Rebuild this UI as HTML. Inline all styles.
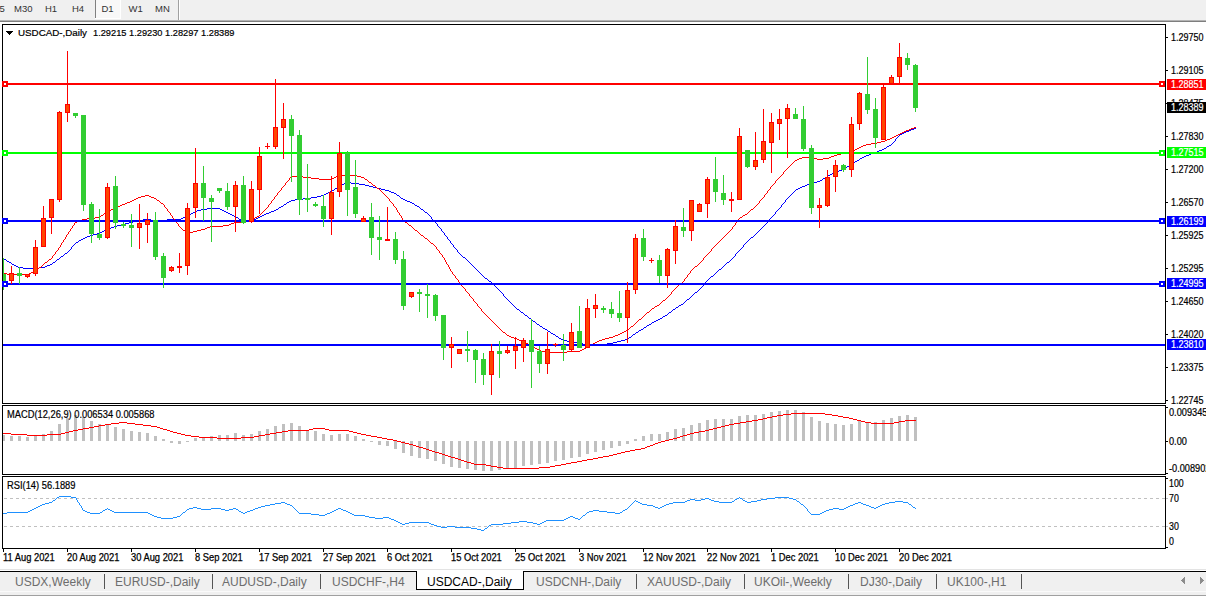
<!DOCTYPE html>
<html><head><meta charset="utf-8"><style>
html,body{margin:0;padding:0;background:#fff;width:1206px;height:596px;overflow:hidden}
svg{display:block;font-family:"Liberation Sans", sans-serif}
</style></head><body>
<svg width="1206" height="596" viewBox="0 0 1206 596" shape-rendering="crispEdges">
<rect x="0" y="0" width="1206" height="20" fill="#F0F0F0"/>
<rect x="0" y="20" width="1206" height="1" fill="#B4B4B4"/>
<rect x="0" y="21" width="1206" height="1" fill="#7E7E7E"/>
<rect x="96" y="0" width="24" height="18" fill="#F8F8F8"/>
<rect x="95" y="0" width="1" height="18" fill="#808080"/>
<rect x="95" y="18" width="26" height="1" fill="#FFFFFF"/>
<rect x="120" y="0" width="1" height="19" fill="#FFFFFF"/>
<rect x="178" y="0" width="1" height="20" fill="#A0A0A0"/>
<rect x="179" y="0" width="1" height="20" fill="#FFFFFF"/>
<text x="-0.5" y="12" font-size="9.5" fill="#333" text-anchor="start">5</text>
<text x="14" y="12" font-size="9.5" fill="#333" text-anchor="start">M30</text>
<text x="45" y="12" font-size="9.5" fill="#333" text-anchor="start">H1</text>
<text x="72" y="12" font-size="9.5" fill="#333" text-anchor="start">H4</text>
<text x="101.5" y="12" font-size="9.5" fill="#333" text-anchor="start">D1</text>
<text x="128.5" y="12" font-size="9.5" fill="#333" text-anchor="start">W1</text>
<text x="155" y="12" font-size="9.5" fill="#333" text-anchor="start">MN</text>
<defs>
<clipPath id="cm"><rect x="3" y="25" width="1162" height="378"/></clipPath>
<clipPath id="cd"><rect x="3" y="406" width="1162" height="68"/></clipPath>
<clipPath id="cr"><rect x="3" y="477" width="1162" height="71"/></clipPath>
</defs>
<g clip-path="url(#cm)">
<path d="M914 128h2v1h-2zM911 129h3v1h-3zM909 130h2v1h-2zM906 131h3v1h-3zM904 132h2v1h-2zM902 133h2v1h-2zM900 134h2v1h-2zM899 135h1v1h-1zM898 136h1v1h-1zM897 137h1v1h-1zM896 138h1v1h-1zM895 139h1v1h-1zM895 140h1v1h-1zM894 141h1v1h-1zM893 142h1v1h-1zM892 143h1v1h-1zM891 144h1v1h-1zM889 145h2v1h-2zM887 146h2v1h-2zM886 147h1v1h-1zM884 148h2v1h-2zM882 149h2v1h-2zM879 150h3v1h-3zM877 151h2v1h-2zM874 152h3v1h-3zM871 153h3v1h-3zM869 154h2v1h-2zM866 155h3v1h-3zM864 156h2v1h-2zM862 157h2v1h-2zM860 158h2v1h-2zM859 159h1v1h-1zM857 160h2v1h-2zM855 161h2v1h-2zM854 162h1v1h-1zM852 163h2v1h-2zM851 164h1v1h-1zM849 165h2v1h-2zM847 166h2v1h-2zM846 167h1v1h-1zM844 168h2v1h-2zM842 169h2v1h-2zM839 170h3v1h-3zM837 171h2v1h-2zM834 172h3v1h-3zM832 173h2v1h-2zM830 174h2v1h-2zM828 175h2v1h-2zM827 176h1v1h-1zM825 177h2v1h-2zM823 178h2v1h-2zM822 179h1v1h-1zM820 180h2v1h-2zM817 181h3v1h-3zM346 182h5v1h-5zM813 182h4v1h-4zM344 183h2v1h-2zM351 183h8v1h-8zM810 183h3v1h-3zM342 184h2v1h-2zM359 184h6v1h-6zM807 184h3v1h-3zM340 185h2v1h-2zM365 185h4v1h-4zM805 185h2v1h-2zM339 186h1v1h-1zM369 186h4v1h-4zM802 186h3v1h-3zM337 187h2v1h-2zM373 187h4v1h-4zM800 187h2v1h-2zM335 188h2v1h-2zM377 188h4v1h-4zM798 188h2v1h-2zM334 189h1v1h-1zM381 189h4v1h-4zM796 189h2v1h-2zM332 190h2v1h-2zM385 190h4v1h-4zM795 190h1v1h-1zM330 191h2v1h-2zM389 191h2v1h-2zM794 191h1v1h-1zM328 192h2v1h-2zM391 192h3v1h-3zM793 192h1v1h-1zM326 193h2v1h-2zM394 193h2v1h-2zM792 193h1v1h-1zM324 194h2v1h-2zM396 194h1v1h-1zM791 194h1v1h-1zM321 195h3v1h-3zM397 195h2v1h-2zM790 195h1v1h-1zM317 196h4v1h-4zM399 196h1v1h-1zM789 196h1v1h-1zM311 197h6v1h-6zM400 197h1v1h-1zM788 197h1v1h-1zM303 198h8v1h-8zM401 198h2v1h-2zM787 198h1v1h-1zM295 199h8v1h-8zM403 199h2v1h-2zM786 199h1v1h-1zM291 200h4v1h-4zM405 200h2v1h-2zM785 200h1v1h-1zM289 201h2v1h-2zM407 201h3v1h-3zM785 201h1v1h-1zM287 202h2v1h-2zM410 202h2v1h-2zM784 202h1v1h-1zM286 203h1v1h-1zM412 203h2v1h-2zM783 203h1v1h-1zM284 204h2v1h-2zM414 204h1v1h-1zM782 204h1v1h-1zM283 205h1v1h-1zM415 205h2v1h-2zM781 205h1v1h-1zM281 206h2v1h-2zM417 206h2v1h-2zM781 206h1v1h-1zM279 207h2v1h-2zM419 207h1v1h-1zM780 207h1v1h-1zM207 208h13v1h-13zM278 208h1v1h-1zM420 208h1v1h-1zM779 208h1v1h-1zM201 209h6v1h-6zM220 209h2v1h-2zM276 209h2v1h-2zM421 209h2v1h-2zM778 209h1v1h-1zM197 210h4v1h-4zM222 210h2v1h-2zM274 210h2v1h-2zM423 210h1v1h-1zM777 210h1v1h-1zM195 211h2v1h-2zM224 211h2v1h-2zM271 211h3v1h-3zM424 211h1v1h-1zM776 211h1v1h-1zM193 212h2v1h-2zM226 212h2v1h-2zM269 212h2v1h-2zM425 212h2v1h-2zM775 212h1v1h-1zM191 213h2v1h-2zM228 213h2v1h-2zM266 213h3v1h-3zM427 213h1v1h-1zM775 213h1v1h-1zM190 214h1v1h-1zM230 214h2v1h-2zM264 214h2v1h-2zM428 214h1v1h-1zM774 214h1v1h-1zM188 215h2v1h-2zM232 215h2v1h-2zM262 215h2v1h-2zM429 215h1v1h-1zM773 215h1v1h-1zM186 216h2v1h-2zM234 216h2v1h-2zM260 216h2v1h-2zM430 216h1v1h-1zM772 216h1v1h-1zM183 217h3v1h-3zM236 217h2v1h-2zM258 217h2v1h-2zM431 217h1v1h-1zM771 217h1v1h-1zM181 218h2v1h-2zM238 218h1v1h-1zM256 218h2v1h-2zM431 218h1v1h-1zM770 218h1v1h-1zM143 219h8v1h-8zM167 219h14v1h-14zM239 219h2v1h-2zM254 219h2v1h-2zM432 219h1v1h-1zM769 219h1v1h-1zM137 220h6v1h-6zM151 220h16v1h-16zM241 220h2v1h-2zM252 220h2v1h-2zM433 220h1v1h-1zM768 220h1v1h-1zM133 221h4v1h-4zM243 221h9v1h-9zM434 221h1v1h-1zM767 221h1v1h-1zM129 222h4v1h-4zM435 222h1v1h-1zM767 222h1v1h-1zM125 223h4v1h-4zM436 223h1v1h-1zM766 223h1v1h-1zM121 224h4v1h-4zM437 224h1v1h-1zM765 224h1v1h-1zM117 225h4v1h-4zM437 225h1v1h-1zM764 225h1v1h-1zM114 226h3v1h-3zM438 226h1v1h-1zM763 226h1v1h-1zM111 227h3v1h-3zM439 227h1v1h-1zM762 227h1v1h-1zM109 228h2v1h-2zM440 228h1v1h-1zM761 228h1v1h-1zM106 229h3v1h-3zM441 229h1v1h-1zM760 229h1v1h-1zM104 230h2v1h-2zM441 230h1v1h-1zM759 230h1v1h-1zM102 231h2v1h-2zM442 231h1v1h-1zM758 231h1v1h-1zM100 232h2v1h-2zM443 232h1v1h-1zM757 232h1v1h-1zM97 233h3v1h-3zM444 233h1v1h-1zM756 233h1v1h-1zM93 234h4v1h-4zM444 234h1v1h-1zM755 234h1v1h-1zM90 235h3v1h-3zM445 235h1v1h-1zM754 235h1v1h-1zM87 236h3v1h-3zM446 236h1v1h-1zM753 236h1v1h-1zM85 237h2v1h-2zM447 237h1v1h-1zM751 237h2v1h-2zM83 238h2v1h-2zM447 238h1v1h-1zM750 238h1v1h-1zM81 239h2v1h-2zM448 239h1v1h-1zM749 239h1v1h-1zM79 240h2v1h-2zM449 240h1v1h-1zM748 240h1v1h-1zM78 241h1v1h-1zM450 241h1v1h-1zM747 241h1v1h-1zM76 242h2v1h-2zM450 242h1v1h-1zM746 242h1v1h-1zM75 243h1v1h-1zM451 243h1v1h-1zM745 243h1v1h-1zM74 244h1v1h-1zM452 244h1v1h-1zM744 244h1v1h-1zM73 245h1v1h-1zM453 245h1v1h-1zM743 245h1v1h-1zM72 246h1v1h-1zM453 246h1v1h-1zM743 246h1v1h-1zM71 247h1v1h-1zM454 247h1v1h-1zM742 247h1v1h-1zM71 248h1v1h-1zM455 248h1v1h-1zM741 248h1v1h-1zM70 249h1v1h-1zM456 249h1v1h-1zM740 249h1v1h-1zM69 250h1v1h-1zM457 250h1v1h-1zM739 250h1v1h-1zM68 251h1v1h-1zM457 251h1v1h-1zM738 251h1v1h-1zM67 252h1v1h-1zM458 252h1v1h-1zM737 252h1v1h-1zM65 253h2v1h-2zM459 253h1v1h-1zM736 253h1v1h-1zM64 254h1v1h-1zM460 254h1v1h-1zM735 254h1v1h-1zM63 255h1v1h-1zM461 255h1v1h-1zM735 255h1v1h-1zM61 256h2v1h-2zM462 256h1v1h-1zM734 256h1v1h-1zM2 257h1v1h-1zM60 257h1v1h-1zM463 257h2v1h-2zM733 257h1v1h-1zM3 258h1v1h-1zM59 258h1v1h-1zM465 258h1v1h-1zM732 258h1v1h-1zM4 259h2v1h-2zM57 259h2v1h-2zM466 259h1v1h-1zM731 259h1v1h-1zM6 260h1v1h-1zM56 260h1v1h-1zM467 260h1v1h-1zM730 260h1v1h-1zM7 261h2v1h-2zM55 261h1v1h-1zM468 261h1v1h-1zM729 261h1v1h-1zM9 262h2v1h-2zM53 262h2v1h-2zM469 262h1v1h-1zM727 262h2v1h-2zM11 263h1v1h-1zM52 263h1v1h-1zM470 263h1v1h-1zM726 263h1v1h-1zM12 264h2v1h-2zM50 264h2v1h-2zM471 264h1v1h-1zM725 264h1v1h-1zM14 265h2v1h-2zM47 265h3v1h-3zM472 265h1v1h-1zM724 265h1v1h-1zM16 266h2v1h-2zM45 266h2v1h-2zM473 266h1v1h-1zM723 266h1v1h-1zM18 267h5v1h-5zM39 267h6v1h-6zM474 267h1v1h-1zM722 267h1v1h-1zM23 268h16v1h-16zM475 268h1v1h-1zM721 268h1v1h-1zM476 269h1v1h-1zM719 269h2v1h-2zM477 270h1v1h-1zM718 270h1v1h-1zM478 271h1v1h-1zM717 271h1v1h-1zM479 272h1v1h-1zM716 272h1v1h-1zM480 273h1v1h-1zM715 273h1v1h-1zM481 274h1v1h-1zM714 274h1v1h-1zM482 275h1v1h-1zM713 275h1v1h-1zM483 276h1v1h-1zM711 276h2v1h-2zM484 277h1v1h-1zM710 277h1v1h-1zM485 278h2v1h-2zM709 278h1v1h-1zM487 279h1v1h-1zM708 279h1v1h-1zM488 280h1v1h-1zM707 280h1v1h-1zM489 281h2v1h-2zM706 281h1v1h-1zM491 282h1v1h-1zM705 282h1v1h-1zM492 283h1v1h-1zM704 283h1v1h-1zM493 284h1v1h-1zM703 284h1v1h-1zM494 285h1v1h-1zM703 285h1v1h-1zM495 286h1v1h-1zM702 286h1v1h-1zM496 287h1v1h-1zM701 287h1v1h-1zM497 288h1v1h-1zM700 288h1v1h-1zM498 289h1v1h-1zM699 289h1v1h-1zM499 290h1v1h-1zM698 290h1v1h-1zM500 291h1v1h-1zM697 291h1v1h-1zM501 292h1v1h-1zM695 292h2v1h-2zM502 293h1v1h-1zM694 293h1v1h-1zM503 294h1v1h-1zM693 294h1v1h-1zM503 295h1v1h-1zM692 295h1v1h-1zM504 296h1v1h-1zM691 296h1v1h-1zM505 297h1v1h-1zM690 297h1v1h-1zM506 298h1v1h-1zM689 298h1v1h-1zM507 299h1v1h-1zM687 299h2v1h-2zM508 300h1v1h-1zM686 300h1v1h-1zM509 301h1v1h-1zM685 301h1v1h-1zM510 302h1v1h-1zM684 302h1v1h-1zM511 303h1v1h-1zM683 303h1v1h-1zM512 304h1v1h-1zM681 304h2v1h-2zM513 305h1v1h-1zM679 305h2v1h-2zM514 306h1v1h-1zM678 306h1v1h-1zM515 307h1v1h-1zM676 307h2v1h-2zM516 308h1v1h-1zM675 308h1v1h-1zM517 309h2v1h-2zM673 309h2v1h-2zM519 310h1v1h-1zM672 310h1v1h-1zM520 311h1v1h-1zM671 311h1v1h-1zM521 312h2v1h-2zM669 312h2v1h-2zM523 313h1v1h-1zM668 313h1v1h-1zM524 314h1v1h-1zM667 314h1v1h-1zM525 315h2v1h-2zM665 315h2v1h-2zM527 316h1v1h-1zM663 316h2v1h-2zM528 317h1v1h-1zM662 317h1v1h-1zM529 318h2v1h-2zM660 318h2v1h-2zM531 319h1v1h-1zM658 319h2v1h-2zM532 320h1v1h-1zM656 320h2v1h-2zM533 321h2v1h-2zM654 321h2v1h-2zM535 322h1v1h-1zM652 322h2v1h-2zM536 323h1v1h-1zM651 323h1v1h-1zM537 324h2v1h-2zM649 324h2v1h-2zM539 325h1v1h-1zM647 325h2v1h-2zM540 326h2v1h-2zM646 326h1v1h-1zM542 327h1v1h-1zM644 327h2v1h-2zM543 328h2v1h-2zM643 328h1v1h-1zM545 329h2v1h-2zM641 329h2v1h-2zM547 330h1v1h-1zM639 330h2v1h-2zM548 331h2v1h-2zM638 331h1v1h-1zM550 332h1v1h-1zM636 332h2v1h-2zM551 333h2v1h-2zM635 333h1v1h-1zM553 334h2v1h-2zM633 334h2v1h-2zM555 335h1v1h-1zM632 335h1v1h-1zM556 336h2v1h-2zM631 336h1v1h-1zM558 337h1v1h-1zM629 337h2v1h-2zM559 338h2v1h-2zM628 338h1v1h-1zM561 339h2v1h-2zM625 339h3v1h-3zM563 340h4v1h-4zM621 340h4v1h-4zM567 341h6v1h-6zM617 341h4v1h-4zM573 342h4v1h-4zM613 342h4v1h-4zM577 343h6v1h-6zM607 343h6v1h-6zM583 344h8v1h-8zM599 344h8v1h-8zM591 345h8v1h-8z" fill="#0000FF"/>
<path d="M914 127h2v1h-2zM911 128h3v1h-3zM909 129h2v1h-2zM906 130h3v1h-3zM904 131h2v1h-2zM902 132h2v1h-2zM900 133h2v1h-2zM898 134h2v1h-2zM896 135h2v1h-2zM894 136h2v1h-2zM892 137h2v1h-2zM890 138h2v1h-2zM887 139h3v1h-3zM885 140h2v1h-2zM881 141h4v1h-4zM877 142h4v1h-4zM871 143h6v1h-6zM866 144h5v1h-5zM863 145h3v1h-3zM861 146h2v1h-2zM859 147h2v1h-2zM857 148h2v1h-2zM855 149h2v1h-2zM854 150h1v1h-1zM852 151h2v1h-2zM847 152h5v1h-5zM841 153h6v1h-6zM837 154h4v1h-4zM834 155h3v1h-3zM831 156h3v1h-3zM802 157h11v1h-11zM829 157h2v1h-2zM799 158h3v1h-3zM813 158h4v1h-4zM823 158h6v1h-6zM797 159h2v1h-2zM817 159h6v1h-6zM795 160h2v1h-2zM794 161h1v1h-1zM793 162h1v1h-1zM792 163h1v1h-1zM791 164h1v1h-1zM790 165h1v1h-1zM789 166h1v1h-1zM788 167h1v1h-1zM787 168h1v1h-1zM786 169h1v1h-1zM785 170h1v1h-1zM784 171h1v1h-1zM783 172h1v1h-1zM783 173h1v1h-1zM782 174h1v1h-1zM338 175h19v1h-19zM781 175h1v1h-1zM291 176h12v1h-12zM336 176h2v1h-2zM357 176h4v1h-4zM780 176h1v1h-1zM290 177h1v1h-1zM303 177h8v1h-8zM334 177h2v1h-2zM361 177h3v1h-3zM779 177h1v1h-1zM289 178h1v1h-1zM311 178h8v1h-8zM332 178h2v1h-2zM364 178h1v1h-1zM778 178h1v1h-1zM289 179h1v1h-1zM319 179h13v1h-13zM365 179h2v1h-2zM777 179h1v1h-1zM288 180h1v1h-1zM367 180h1v1h-1zM776 180h1v1h-1zM287 181h1v1h-1zM368 181h1v1h-1zM775 181h1v1h-1zM286 182h1v1h-1zM369 182h2v1h-2zM775 182h1v1h-1zM285 183h1v1h-1zM371 183h1v1h-1zM774 183h1v1h-1zM285 184h1v1h-1zM372 184h1v1h-1zM773 184h1v1h-1zM284 185h1v1h-1zM373 185h2v1h-2zM772 185h1v1h-1zM283 186h1v1h-1zM375 186h1v1h-1zM771 186h1v1h-1zM282 187h1v1h-1zM376 187h1v1h-1zM770 187h1v1h-1zM281 188h1v1h-1zM377 188h2v1h-2zM770 188h1v1h-1zM281 189h1v1h-1zM379 189h1v1h-1zM769 189h1v1h-1zM280 190h1v1h-1zM380 190h1v1h-1zM768 190h1v1h-1zM279 191h1v1h-1zM381 191h1v1h-1zM767 191h1v1h-1zM278 192h1v1h-1zM382 192h1v1h-1zM767 192h1v1h-1zM277 193h1v1h-1zM383 193h1v1h-1zM766 193h1v1h-1zM277 194h1v1h-1zM384 194h1v1h-1zM765 194h1v1h-1zM145 195h4v1h-4zM276 195h1v1h-1zM385 195h1v1h-1zM764 195h1v1h-1zM141 196h4v1h-4zM149 196h2v1h-2zM275 196h1v1h-1zM386 196h1v1h-1zM764 196h1v1h-1zM138 197h3v1h-3zM151 197h3v1h-3zM274 197h1v1h-1zM387 197h1v1h-1zM763 197h1v1h-1zM136 198h2v1h-2zM154 198h2v1h-2zM274 198h1v1h-1zM388 198h1v1h-1zM762 198h1v1h-1zM134 199h2v1h-2zM156 199h1v1h-1zM273 199h1v1h-1zM389 199h1v1h-1zM761 199h1v1h-1zM132 200h2v1h-2zM157 200h2v1h-2zM272 200h1v1h-1zM389 200h1v1h-1zM760 200h1v1h-1zM130 201h2v1h-2zM159 201h1v1h-1zM271 201h1v1h-1zM390 201h1v1h-1zM759 201h1v1h-1zM127 202h3v1h-3zM160 202h1v1h-1zM271 202h1v1h-1zM391 202h1v1h-1zM759 202h1v1h-1zM125 203h2v1h-2zM161 203h2v1h-2zM270 203h1v1h-1zM392 203h1v1h-1zM758 203h1v1h-1zM122 204h3v1h-3zM163 204h1v1h-1zM269 204h1v1h-1zM393 204h1v1h-1zM757 204h1v1h-1zM120 205h2v1h-2zM164 205h1v1h-1zM268 205h1v1h-1zM393 205h1v1h-1zM756 205h1v1h-1zM118 206h2v1h-2zM164 206h1v1h-1zM268 206h1v1h-1zM394 206h1v1h-1zM755 206h1v1h-1zM116 207h2v1h-2zM165 207h1v1h-1zM267 207h1v1h-1zM395 207h1v1h-1zM754 207h1v1h-1zM114 208h2v1h-2zM166 208h1v1h-1zM266 208h1v1h-1zM396 208h1v1h-1zM753 208h1v1h-1zM111 209h3v1h-3zM167 209h1v1h-1zM265 209h1v1h-1zM396 209h1v1h-1zM751 209h2v1h-2zM109 210h2v1h-2zM167 210h1v1h-1zM264 210h1v1h-1zM397 210h1v1h-1zM750 210h1v1h-1zM107 211h2v1h-2zM168 211h1v1h-1zM263 211h1v1h-1zM397 211h1v1h-1zM749 211h1v1h-1zM105 212h2v1h-2zM169 212h1v1h-1zM262 212h1v1h-1zM398 212h1v1h-1zM748 212h1v1h-1zM104 213h1v1h-1zM170 213h1v1h-1zM261 213h1v1h-1zM399 213h1v1h-1zM747 213h1v1h-1zM103 214h1v1h-1zM170 214h1v1h-1zM260 214h1v1h-1zM399 214h1v1h-1zM745 214h2v1h-2zM101 215h2v1h-2zM171 215h1v1h-1zM259 215h1v1h-1zM400 215h1v1h-1zM743 215h2v1h-2zM100 216h1v1h-1zM172 216h1v1h-1zM257 216h2v1h-2zM401 216h1v1h-1zM742 216h1v1h-1zM95 217h5v1h-5zM172 217h1v1h-1zM255 217h2v1h-2zM401 217h1v1h-1zM740 217h2v1h-2zM87 218h8v1h-8zM173 218h1v1h-1zM254 218h1v1h-1zM402 218h1v1h-1zM739 218h1v1h-1zM82 219h5v1h-5zM174 219h1v1h-1zM252 219h2v1h-2zM402 219h1v1h-1zM738 219h1v1h-1zM79 220h3v1h-3zM175 220h1v1h-1zM249 220h3v1h-3zM403 220h1v1h-1zM738 220h1v1h-1zM77 221h2v1h-2zM175 221h1v1h-1zM245 221h4v1h-4zM404 221h1v1h-1zM737 221h1v1h-1zM75 222h2v1h-2zM176 222h1v1h-1zM234 222h11v1h-11zM405 222h2v1h-2zM736 222h1v1h-1zM74 223h1v1h-1zM177 223h1v1h-1zM231 223h3v1h-3zM407 223h1v1h-1zM735 223h1v1h-1zM74 224h1v1h-1zM178 224h1v1h-1zM229 224h2v1h-2zM408 224h1v1h-1zM735 224h1v1h-1zM73 225h1v1h-1zM178 225h1v1h-1zM223 225h6v1h-6zM409 225h2v1h-2zM734 225h1v1h-1zM72 226h1v1h-1zM179 226h1v1h-1zM210 226h13v1h-13zM411 226h1v1h-1zM733 226h1v1h-1zM72 227h1v1h-1zM180 227h1v1h-1zM207 227h3v1h-3zM412 227h1v1h-1zM732 227h1v1h-1zM71 228h1v1h-1zM181 228h1v1h-1zM205 228h2v1h-2zM413 228h1v1h-1zM732 228h1v1h-1zM70 229h1v1h-1zM182 229h1v1h-1zM201 229h4v1h-4zM414 229h1v1h-1zM731 229h1v1h-1zM70 230h1v1h-1zM183 230h2v1h-2zM197 230h4v1h-4zM415 230h2v1h-2zM730 230h1v1h-1zM69 231h1v1h-1zM185 231h1v1h-1zM193 231h4v1h-4zM417 231h1v1h-1zM729 231h1v1h-1zM68 232h1v1h-1zM186 232h1v1h-1zM189 232h4v1h-4zM418 232h1v1h-1zM728 232h1v1h-1zM68 233h1v1h-1zM187 233h2v1h-2zM419 233h1v1h-1zM727 233h1v1h-1zM67 234h1v1h-1zM420 234h1v1h-1zM726 234h1v1h-1zM66 235h1v1h-1zM421 235h2v1h-2zM725 235h1v1h-1zM66 236h1v1h-1zM423 236h1v1h-1zM724 236h1v1h-1zM65 237h1v1h-1zM424 237h1v1h-1zM723 237h1v1h-1zM65 238h1v1h-1zM425 238h2v1h-2zM722 238h1v1h-1zM64 239h1v1h-1zM427 239h1v1h-1zM721 239h1v1h-1zM63 240h1v1h-1zM428 240h1v1h-1zM720 240h1v1h-1zM63 241h1v1h-1zM429 241h1v1h-1zM719 241h1v1h-1zM62 242h1v1h-1zM430 242h1v1h-1zM718 242h1v1h-1zM61 243h1v1h-1zM431 243h2v1h-2zM717 243h1v1h-1zM61 244h1v1h-1zM433 244h1v1h-1zM716 244h1v1h-1zM60 245h1v1h-1zM434 245h1v1h-1zM715 245h1v1h-1zM60 246h1v1h-1zM435 246h1v1h-1zM714 246h1v1h-1zM59 247h1v1h-1zM436 247h1v1h-1zM713 247h1v1h-1zM58 248h1v1h-1zM436 248h1v1h-1zM712 248h1v1h-1zM58 249h1v1h-1zM437 249h1v1h-1zM711 249h1v1h-1zM57 250h1v1h-1zM438 250h1v1h-1zM711 250h1v1h-1zM56 251h1v1h-1zM439 251h1v1h-1zM710 251h1v1h-1zM55 252h1v1h-1zM439 252h1v1h-1zM709 252h1v1h-1zM55 253h1v1h-1zM440 253h1v1h-1zM708 253h1v1h-1zM54 254h1v1h-1zM441 254h1v1h-1zM707 254h1v1h-1zM53 255h1v1h-1zM442 255h1v1h-1zM706 255h1v1h-1zM52 256h1v1h-1zM442 256h1v1h-1zM705 256h1v1h-1zM52 257h1v1h-1zM443 257h1v1h-1zM704 257h1v1h-1zM51 258h1v1h-1zM444 258h1v1h-1zM703 258h1v1h-1zM49 259h2v1h-2zM444 259h1v1h-1zM703 259h1v1h-1zM48 260h1v1h-1zM445 260h1v1h-1zM702 260h1v1h-1zM47 261h1v1h-1zM445 261h1v1h-1zM701 261h1v1h-1zM45 262h2v1h-2zM446 262h1v1h-1zM700 262h1v1h-1zM44 263h1v1h-1zM446 263h1v1h-1zM699 263h1v1h-1zM43 264h1v1h-1zM447 264h1v1h-1zM698 264h1v1h-1zM42 265h1v1h-1zM448 265h1v1h-1zM697 265h1v1h-1zM41 266h1v1h-1zM448 266h1v1h-1zM695 266h2v1h-2zM39 267h2v1h-2zM449 267h1v1h-1zM694 267h1v1h-1zM38 268h1v1h-1zM449 268h1v1h-1zM693 268h1v1h-1zM37 269h1v1h-1zM450 269h1v1h-1zM692 269h1v1h-1zM36 270h1v1h-1zM450 270h1v1h-1zM691 270h1v1h-1zM34 271h2v1h-2zM451 271h1v1h-1zM690 271h1v1h-1zM31 272h3v1h-3zM452 272h1v1h-1zM690 272h1v1h-1zM2 273h5v1h-5zM29 273h2v1h-2zM452 273h1v1h-1zM689 273h1v1h-1zM7 274h22v1h-22zM453 274h1v1h-1zM688 274h1v1h-1zM454 275h1v1h-1zM687 275h1v1h-1zM455 276h1v1h-1zM687 276h1v1h-1zM455 277h1v1h-1zM686 277h1v1h-1zM456 278h1v1h-1zM685 278h1v1h-1zM457 279h1v1h-1zM684 279h1v1h-1zM458 280h1v1h-1zM684 280h1v1h-1zM458 281h1v1h-1zM683 281h1v1h-1zM459 282h1v1h-1zM682 282h1v1h-1zM460 283h1v1h-1zM681 283h1v1h-1zM461 284h1v1h-1zM679 284h2v1h-2zM461 285h1v1h-1zM678 285h1v1h-1zM462 286h1v1h-1zM677 286h1v1h-1zM463 287h1v1h-1zM676 287h1v1h-1zM464 288h1v1h-1zM675 288h1v1h-1zM465 289h1v1h-1zM674 289h1v1h-1zM465 290h1v1h-1zM673 290h1v1h-1zM466 291h1v1h-1zM672 291h1v1h-1zM467 292h1v1h-1zM671 292h1v1h-1zM468 293h1v1h-1zM671 293h1v1h-1zM469 294h1v1h-1zM670 294h1v1h-1zM469 295h1v1h-1zM669 295h1v1h-1zM470 296h1v1h-1zM668 296h1v1h-1zM471 297h1v1h-1zM667 297h1v1h-1zM472 298h1v1h-1zM666 298h1v1h-1zM473 299h1v1h-1zM665 299h1v1h-1zM473 300h1v1h-1zM663 300h2v1h-2zM474 301h1v1h-1zM662 301h1v1h-1zM475 302h1v1h-1zM661 302h1v1h-1zM476 303h1v1h-1zM660 303h1v1h-1zM477 304h1v1h-1zM659 304h1v1h-1zM477 305h1v1h-1zM657 305h2v1h-2zM478 306h1v1h-1zM655 306h2v1h-2zM479 307h1v1h-1zM654 307h1v1h-1zM480 308h1v1h-1zM652 308h2v1h-2zM481 309h1v1h-1zM651 309h1v1h-1zM481 310h1v1h-1zM650 310h1v1h-1zM482 311h1v1h-1zM649 311h1v1h-1zM483 312h1v1h-1zM647 312h2v1h-2zM484 313h1v1h-1zM646 313h1v1h-1zM485 314h1v1h-1zM645 314h1v1h-1zM486 315h1v1h-1zM644 315h1v1h-1zM487 316h1v1h-1zM643 316h1v1h-1zM488 317h1v1h-1zM642 317h1v1h-1zM489 318h1v1h-1zM641 318h1v1h-1zM490 319h1v1h-1zM639 319h2v1h-2zM491 320h1v1h-1zM638 320h1v1h-1zM492 321h1v1h-1zM637 321h1v1h-1zM493 322h1v1h-1zM636 322h1v1h-1zM494 323h1v1h-1zM635 323h1v1h-1zM495 324h1v1h-1zM634 324h1v1h-1zM496 325h1v1h-1zM633 325h1v1h-1zM497 326h1v1h-1zM631 326h2v1h-2zM498 327h1v1h-1zM630 327h1v1h-1zM499 328h1v1h-1zM629 328h1v1h-1zM500 329h1v1h-1zM628 329h1v1h-1zM501 330h1v1h-1zM626 330h2v1h-2zM502 331h1v1h-1zM624 331h2v1h-2zM503 332h2v1h-2zM622 332h2v1h-2zM505 333h1v1h-1zM620 333h2v1h-2zM506 334h1v1h-1zM618 334h2v1h-2zM507 335h2v1h-2zM615 335h3v1h-3zM509 336h2v1h-2zM613 336h2v1h-2zM511 337h3v1h-3zM609 337h4v1h-4zM514 338h3v1h-3zM605 338h4v1h-4zM517 339h2v1h-2zM602 339h3v1h-3zM519 340h3v1h-3zM599 340h3v1h-3zM522 341h2v1h-2zM597 341h2v1h-2zM524 342h2v1h-2zM595 342h2v1h-2zM526 343h2v1h-2zM593 343h2v1h-2zM528 344h2v1h-2zM591 344h2v1h-2zM530 345h2v1h-2zM590 345h1v1h-1zM532 346h2v1h-2zM588 346h2v1h-2zM534 347h1v1h-1zM586 347h2v1h-2zM535 348h2v1h-2zM584 348h2v1h-2zM537 349h2v1h-2zM582 349h2v1h-2zM539 350h2v1h-2zM580 350h2v1h-2zM541 351h4v1h-4zM567 351h13v1h-13zM545 352h22v1h-22z" fill="#FF0000"/>
<rect x="3" y="83" width="1162" height="2" fill="#FF0000"/>
<rect x="3" y="152" width="1162" height="2" fill="#00FF00"/>
<rect x="3" y="220" width="1162" height="2" fill="#0000FF"/>
<rect x="3" y="283" width="1162" height="2" fill="#0000FF"/>
<rect x="3" y="344" width="1162" height="2" fill="#0000FF"/>
<rect x="3" y="258" width="1" height="32" fill="#32CD32"/>
<rect x="1" y="274" width="5" height="11" fill="#32CD32"/>
<rect x="11" y="266" width="1" height="18" fill="#FF0000"/>
<rect x="9" y="273" width="5" height="8" fill="#FF0000"/>
<rect x="10" y="274" width="3" height="6" fill="#FF4500"/>
<rect x="19" y="267" width="1" height="17" fill="#32CD32"/>
<rect x="17" y="273" width="5" height="3" fill="#32CD32"/>
<rect x="27" y="274" width="1" height="4" fill="#FF0000"/>
<rect x="25" y="274" width="5" height="3" fill="#FF0000"/>
<rect x="26" y="275" width="3" height="1" fill="#FF4500"/>
<rect x="35" y="240" width="1" height="36" fill="#FF0000"/>
<rect x="33" y="247" width="5" height="27" fill="#FF0000"/>
<rect x="34" y="248" width="3" height="25" fill="#FF4500"/>
<rect x="43" y="206" width="1" height="41" fill="#FF0000"/>
<rect x="41" y="218" width="5" height="29" fill="#FF0000"/>
<rect x="42" y="219" width="3" height="27" fill="#FF4500"/>
<rect x="51" y="199" width="1" height="35" fill="#FF0000"/>
<rect x="49" y="199" width="5" height="19" fill="#FF0000"/>
<rect x="50" y="200" width="3" height="17" fill="#FF4500"/>
<rect x="59" y="111" width="1" height="91" fill="#FF0000"/>
<rect x="57" y="112" width="5" height="88" fill="#FF0000"/>
<rect x="58" y="113" width="3" height="86" fill="#FF4500"/>
<rect x="67" y="51" width="1" height="71" fill="#FF0000"/>
<rect x="65" y="104" width="5" height="9" fill="#FF0000"/>
<rect x="66" y="105" width="3" height="7" fill="#FF4500"/>
<rect x="75" y="113" width="1" height="5" fill="#32CD32"/>
<rect x="73" y="113" width="5" height="3" fill="#32CD32"/>
<rect x="83" y="115" width="1" height="96" fill="#32CD32"/>
<rect x="81" y="115" width="5" height="90" fill="#32CD32"/>
<rect x="91" y="202" width="1" height="41" fill="#32CD32"/>
<rect x="89" y="204" width="5" height="30" fill="#32CD32"/>
<rect x="99" y="209" width="1" height="31" fill="#32CD32"/>
<rect x="97" y="234" width="5" height="4" fill="#32CD32"/>
<rect x="107" y="183" width="1" height="56" fill="#FF0000"/>
<rect x="105" y="187" width="5" height="51" fill="#FF0000"/>
<rect x="106" y="188" width="3" height="49" fill="#FF4500"/>
<rect x="115" y="176" width="1" height="53" fill="#32CD32"/>
<rect x="113" y="186" width="5" height="37" fill="#32CD32"/>
<rect x="123" y="222" width="1" height="6" fill="#32CD32"/>
<rect x="121" y="224" width="5" height="2" fill="#32CD32"/>
<rect x="131" y="214" width="1" height="33" fill="#32CD32"/>
<rect x="129" y="225" width="5" height="3" fill="#32CD32"/>
<rect x="139" y="204" width="1" height="45" fill="#FF0000"/>
<rect x="137" y="223" width="5" height="5" fill="#FF0000"/>
<rect x="138" y="224" width="3" height="3" fill="#FF4500"/>
<rect x="147" y="213" width="1" height="30" fill="#FF0000"/>
<rect x="145" y="220" width="5" height="5" fill="#FF0000"/>
<rect x="146" y="221" width="3" height="3" fill="#FF4500"/>
<rect x="155" y="212" width="1" height="48" fill="#32CD32"/>
<rect x="153" y="220" width="5" height="37" fill="#32CD32"/>
<rect x="163" y="253" width="1" height="35" fill="#32CD32"/>
<rect x="161" y="256" width="5" height="22" fill="#32CD32"/>
<rect x="171" y="266" width="1" height="6" fill="#FF0000"/>
<rect x="169" y="267" width="5" height="4" fill="#FF0000"/>
<rect x="170" y="268" width="3" height="2" fill="#FF4500"/>
<rect x="179" y="253" width="1" height="20" fill="#FF0000"/>
<rect x="177" y="266" width="5" height="2" fill="#FF0000"/>
<rect x="187" y="203" width="1" height="72" fill="#FF0000"/>
<rect x="185" y="208" width="5" height="58" fill="#FF0000"/>
<rect x="186" y="209" width="3" height="56" fill="#FF4500"/>
<rect x="195" y="148" width="1" height="70" fill="#FF0000"/>
<rect x="193" y="183" width="5" height="25" fill="#FF0000"/>
<rect x="194" y="184" width="3" height="23" fill="#FF4500"/>
<rect x="203" y="166" width="1" height="55" fill="#32CD32"/>
<rect x="201" y="183" width="5" height="15" fill="#32CD32"/>
<rect x="211" y="195" width="1" height="47" fill="#32CD32"/>
<rect x="209" y="198" width="5" height="4" fill="#32CD32"/>
<rect x="219" y="188" width="1" height="5" fill="#32CD32"/>
<rect x="217" y="188" width="5" height="3" fill="#32CD32"/>
<rect x="227" y="183" width="1" height="27" fill="#32CD32"/>
<rect x="225" y="191" width="5" height="16" fill="#32CD32"/>
<rect x="235" y="181" width="1" height="51" fill="#FF0000"/>
<rect x="233" y="185" width="5" height="22" fill="#FF0000"/>
<rect x="234" y="186" width="3" height="20" fill="#FF4500"/>
<rect x="243" y="176" width="1" height="48" fill="#32CD32"/>
<rect x="241" y="185" width="5" height="38" fill="#32CD32"/>
<rect x="251" y="181" width="1" height="42" fill="#FF0000"/>
<rect x="249" y="189" width="5" height="33" fill="#FF0000"/>
<rect x="250" y="190" width="3" height="31" fill="#FF4500"/>
<rect x="259" y="147" width="1" height="67" fill="#FF0000"/>
<rect x="257" y="156" width="5" height="34" fill="#FF0000"/>
<rect x="258" y="157" width="3" height="32" fill="#FF4500"/>
<rect x="267" y="143" width="1" height="6" fill="#FF0000"/>
<rect x="265" y="146" width="5" height="1" fill="#FF0000"/>
<rect x="275" y="79" width="1" height="70" fill="#FF0000"/>
<rect x="273" y="127" width="5" height="20" fill="#FF0000"/>
<rect x="274" y="128" width="3" height="18" fill="#FF4500"/>
<rect x="283" y="103" width="1" height="56" fill="#FF0000"/>
<rect x="281" y="119" width="5" height="9" fill="#FF0000"/>
<rect x="282" y="120" width="3" height="7" fill="#FF4500"/>
<rect x="291" y="115" width="1" height="67" fill="#32CD32"/>
<rect x="289" y="119" width="5" height="17" fill="#32CD32"/>
<rect x="299" y="130" width="1" height="85" fill="#32CD32"/>
<rect x="297" y="135" width="5" height="65" fill="#32CD32"/>
<rect x="307" y="164" width="1" height="48" fill="#32CD32"/>
<rect x="305" y="198" width="5" height="2" fill="#32CD32"/>
<rect x="315" y="202" width="1" height="5" fill="#32CD32"/>
<rect x="313" y="204" width="5" height="2" fill="#32CD32"/>
<rect x="323" y="195" width="1" height="32" fill="#32CD32"/>
<rect x="321" y="206" width="5" height="13" fill="#32CD32"/>
<rect x="331" y="176" width="1" height="59" fill="#FF0000"/>
<rect x="329" y="192" width="5" height="27" fill="#FF0000"/>
<rect x="330" y="193" width="3" height="25" fill="#FF4500"/>
<rect x="339" y="142" width="1" height="55" fill="#FF0000"/>
<rect x="337" y="153" width="5" height="39" fill="#FF0000"/>
<rect x="338" y="154" width="3" height="37" fill="#FF4500"/>
<rect x="347" y="151" width="1" height="65" fill="#32CD32"/>
<rect x="345" y="153" width="5" height="37" fill="#32CD32"/>
<rect x="355" y="160" width="1" height="58" fill="#32CD32"/>
<rect x="353" y="187" width="5" height="27" fill="#32CD32"/>
<rect x="363" y="216" width="1" height="6" fill="#FF0000"/>
<rect x="361" y="218" width="5" height="4" fill="#FF0000"/>
<rect x="362" y="219" width="3" height="2" fill="#FF4500"/>
<rect x="371" y="203" width="1" height="52" fill="#32CD32"/>
<rect x="369" y="217" width="5" height="21" fill="#32CD32"/>
<rect x="379" y="216" width="1" height="44" fill="#32CD32"/>
<rect x="377" y="237" width="5" height="3" fill="#32CD32"/>
<rect x="387" y="207" width="1" height="34" fill="#FF0000"/>
<rect x="385" y="239" width="5" height="2" fill="#FF0000"/>
<rect x="395" y="232" width="1" height="32" fill="#32CD32"/>
<rect x="393" y="239" width="5" height="21" fill="#32CD32"/>
<rect x="403" y="251" width="1" height="59" fill="#32CD32"/>
<rect x="401" y="259" width="5" height="47" fill="#32CD32"/>
<rect x="411" y="292" width="1" height="6" fill="#FF0000"/>
<rect x="409" y="292" width="5" height="5" fill="#FF0000"/>
<rect x="410" y="293" width="3" height="3" fill="#FF4500"/>
<rect x="419" y="289" width="1" height="23" fill="#32CD32"/>
<rect x="417" y="292" width="5" height="2" fill="#32CD32"/>
<rect x="427" y="284" width="1" height="34" fill="#32CD32"/>
<rect x="425" y="294" width="5" height="2" fill="#32CD32"/>
<rect x="435" y="294" width="1" height="27" fill="#32CD32"/>
<rect x="433" y="295" width="5" height="21" fill="#32CD32"/>
<rect x="443" y="315" width="1" height="45" fill="#32CD32"/>
<rect x="441" y="315" width="5" height="33" fill="#32CD32"/>
<rect x="451" y="337" width="1" height="31" fill="#FF0000"/>
<rect x="449" y="344" width="5" height="4" fill="#FF0000"/>
<rect x="450" y="345" width="3" height="2" fill="#FF4500"/>
<rect x="459" y="349" width="1" height="5" fill="#FF0000"/>
<rect x="457" y="349" width="5" height="5" fill="#FF0000"/>
<rect x="458" y="350" width="3" height="3" fill="#FF4500"/>
<rect x="467" y="331" width="1" height="31" fill="#32CD32"/>
<rect x="465" y="349" width="5" height="2" fill="#32CD32"/>
<rect x="475" y="349" width="1" height="34" fill="#32CD32"/>
<rect x="473" y="350" width="5" height="10" fill="#32CD32"/>
<rect x="483" y="353" width="1" height="32" fill="#32CD32"/>
<rect x="481" y="359" width="5" height="16" fill="#32CD32"/>
<rect x="491" y="344" width="1" height="51" fill="#FF0000"/>
<rect x="489" y="351" width="5" height="24" fill="#FF0000"/>
<rect x="490" y="352" width="3" height="22" fill="#FF4500"/>
<rect x="499" y="341" width="1" height="37" fill="#32CD32"/>
<rect x="497" y="351" width="5" height="3" fill="#32CD32"/>
<rect x="507" y="346" width="1" height="8" fill="#FF0000"/>
<rect x="505" y="350" width="5" height="3" fill="#FF0000"/>
<rect x="506" y="351" width="3" height="1" fill="#FF4500"/>
<rect x="515" y="337" width="1" height="32" fill="#FF0000"/>
<rect x="513" y="346" width="5" height="5" fill="#FF0000"/>
<rect x="514" y="347" width="3" height="3" fill="#FF4500"/>
<rect x="523" y="338" width="1" height="24" fill="#FF0000"/>
<rect x="521" y="340" width="5" height="8" fill="#FF0000"/>
<rect x="522" y="341" width="3" height="6" fill="#FF4500"/>
<rect x="531" y="319" width="1" height="69" fill="#32CD32"/>
<rect x="529" y="340" width="5" height="12" fill="#32CD32"/>
<rect x="539" y="346" width="1" height="27" fill="#32CD32"/>
<rect x="537" y="351" width="5" height="13" fill="#32CD32"/>
<rect x="547" y="332" width="1" height="42" fill="#FF0000"/>
<rect x="545" y="349" width="5" height="15" fill="#FF0000"/>
<rect x="546" y="350" width="3" height="13" fill="#FF4500"/>
<rect x="555" y="343" width="1" height="4" fill="#FF0000"/>
<rect x="553" y="344" width="5" height="1" fill="#FF0000"/>
<rect x="563" y="334" width="1" height="27" fill="#32CD32"/>
<rect x="561" y="345" width="5" height="5" fill="#32CD32"/>
<rect x="571" y="323" width="1" height="28" fill="#FF0000"/>
<rect x="569" y="332" width="5" height="18" fill="#FF0000"/>
<rect x="570" y="333" width="3" height="16" fill="#FF4500"/>
<rect x="579" y="306" width="1" height="42" fill="#32CD32"/>
<rect x="577" y="331" width="5" height="17" fill="#32CD32"/>
<rect x="587" y="299" width="1" height="49" fill="#FF0000"/>
<rect x="585" y="308" width="5" height="40" fill="#FF0000"/>
<rect x="586" y="309" width="3" height="38" fill="#FF4500"/>
<rect x="595" y="294" width="1" height="24" fill="#FF0000"/>
<rect x="593" y="305" width="5" height="4" fill="#FF0000"/>
<rect x="594" y="306" width="3" height="2" fill="#FF4500"/>
<rect x="603" y="306" width="1" height="7" fill="#32CD32"/>
<rect x="601" y="308" width="5" height="2" fill="#32CD32"/>
<rect x="611" y="302" width="1" height="16" fill="#32CD32"/>
<rect x="609" y="309" width="5" height="5" fill="#32CD32"/>
<rect x="619" y="291" width="1" height="31" fill="#32CD32"/>
<rect x="617" y="313" width="5" height="5" fill="#32CD32"/>
<rect x="627" y="282" width="1" height="61" fill="#FF0000"/>
<rect x="625" y="290" width="5" height="28" fill="#FF0000"/>
<rect x="626" y="291" width="3" height="26" fill="#FF4500"/>
<rect x="635" y="234" width="1" height="60" fill="#FF0000"/>
<rect x="633" y="238" width="5" height="52" fill="#FF0000"/>
<rect x="634" y="239" width="3" height="50" fill="#FF4500"/>
<rect x="643" y="229" width="1" height="32" fill="#32CD32"/>
<rect x="641" y="238" width="5" height="19" fill="#32CD32"/>
<rect x="651" y="258" width="1" height="5" fill="#FF0000"/>
<rect x="649" y="260" width="5" height="1" fill="#FF0000"/>
<rect x="659" y="255" width="1" height="28" fill="#32CD32"/>
<rect x="657" y="260" width="5" height="16" fill="#32CD32"/>
<rect x="667" y="248" width="1" height="40" fill="#FF0000"/>
<rect x="665" y="249" width="5" height="27" fill="#FF0000"/>
<rect x="666" y="250" width="3" height="25" fill="#FF4500"/>
<rect x="675" y="220" width="1" height="44" fill="#FF0000"/>
<rect x="673" y="226" width="5" height="25" fill="#FF0000"/>
<rect x="674" y="227" width="3" height="23" fill="#FF4500"/>
<rect x="683" y="208" width="1" height="29" fill="#32CD32"/>
<rect x="681" y="227" width="5" height="4" fill="#32CD32"/>
<rect x="691" y="200" width="1" height="41" fill="#FF0000"/>
<rect x="689" y="200" width="5" height="31" fill="#FF0000"/>
<rect x="690" y="201" width="3" height="29" fill="#FF4500"/>
<rect x="699" y="203" width="1" height="9" fill="#FF0000"/>
<rect x="697" y="204" width="5" height="8" fill="#FF0000"/>
<rect x="698" y="205" width="3" height="6" fill="#FF4500"/>
<rect x="707" y="177" width="1" height="41" fill="#FF0000"/>
<rect x="705" y="179" width="5" height="25" fill="#FF0000"/>
<rect x="706" y="180" width="3" height="23" fill="#FF4500"/>
<rect x="715" y="157" width="1" height="45" fill="#32CD32"/>
<rect x="713" y="179" width="5" height="13" fill="#32CD32"/>
<rect x="723" y="175" width="1" height="30" fill="#32CD32"/>
<rect x="721" y="193" width="5" height="7" fill="#32CD32"/>
<rect x="731" y="192" width="1" height="20" fill="#FF0000"/>
<rect x="729" y="199" width="5" height="2" fill="#FF0000"/>
<rect x="739" y="128" width="1" height="72" fill="#FF0000"/>
<rect x="737" y="136" width="5" height="64" fill="#FF0000"/>
<rect x="738" y="137" width="3" height="62" fill="#FF4500"/>
<rect x="747" y="150" width="1" height="18" fill="#32CD32"/>
<rect x="745" y="150" width="5" height="17" fill="#32CD32"/>
<rect x="755" y="132" width="1" height="38" fill="#FF0000"/>
<rect x="753" y="160" width="5" height="7" fill="#FF0000"/>
<rect x="754" y="161" width="3" height="5" fill="#FF4500"/>
<rect x="763" y="109" width="1" height="54" fill="#FF0000"/>
<rect x="761" y="141" width="5" height="19" fill="#FF0000"/>
<rect x="762" y="142" width="3" height="17" fill="#FF4500"/>
<rect x="771" y="113" width="1" height="60" fill="#FF0000"/>
<rect x="769" y="122" width="5" height="21" fill="#FF0000"/>
<rect x="770" y="123" width="3" height="19" fill="#FF4500"/>
<rect x="779" y="109" width="1" height="31" fill="#FF0000"/>
<rect x="777" y="119" width="5" height="5" fill="#FF0000"/>
<rect x="778" y="120" width="3" height="3" fill="#FF4500"/>
<rect x="787" y="104" width="1" height="54" fill="#FF0000"/>
<rect x="785" y="108" width="5" height="11" fill="#FF0000"/>
<rect x="786" y="109" width="3" height="9" fill="#FF4500"/>
<rect x="795" y="108" width="1" height="11" fill="#32CD32"/>
<rect x="793" y="114" width="5" height="5" fill="#32CD32"/>
<rect x="803" y="106" width="1" height="45" fill="#32CD32"/>
<rect x="801" y="119" width="5" height="30" fill="#32CD32"/>
<rect x="811" y="145" width="1" height="69" fill="#32CD32"/>
<rect x="809" y="148" width="5" height="60" fill="#32CD32"/>
<rect x="819" y="198" width="1" height="30" fill="#FF0000"/>
<rect x="817" y="205" width="5" height="3" fill="#FF0000"/>
<rect x="818" y="206" width="3" height="1" fill="#FF4500"/>
<rect x="827" y="170" width="1" height="37" fill="#FF0000"/>
<rect x="825" y="177" width="5" height="29" fill="#FF0000"/>
<rect x="826" y="178" width="3" height="27" fill="#FF4500"/>
<rect x="835" y="160" width="1" height="32" fill="#FF0000"/>
<rect x="833" y="165" width="5" height="12" fill="#FF0000"/>
<rect x="834" y="166" width="3" height="10" fill="#FF4500"/>
<rect x="843" y="164" width="1" height="8" fill="#32CD32"/>
<rect x="841" y="165" width="5" height="5" fill="#32CD32"/>
<rect x="851" y="117" width="1" height="60" fill="#FF0000"/>
<rect x="849" y="124" width="5" height="46" fill="#FF0000"/>
<rect x="850" y="125" width="3" height="44" fill="#FF4500"/>
<rect x="859" y="92" width="1" height="38" fill="#FF0000"/>
<rect x="857" y="93" width="5" height="31" fill="#FF0000"/>
<rect x="858" y="94" width="3" height="29" fill="#FF4500"/>
<rect x="867" y="57" width="1" height="57" fill="#32CD32"/>
<rect x="865" y="94" width="5" height="16" fill="#32CD32"/>
<rect x="875" y="98" width="1" height="50" fill="#32CD32"/>
<rect x="873" y="109" width="5" height="29" fill="#32CD32"/>
<rect x="883" y="85" width="1" height="55" fill="#FF0000"/>
<rect x="881" y="87" width="5" height="53" fill="#FF0000"/>
<rect x="882" y="88" width="3" height="51" fill="#FF4500"/>
<rect x="891" y="75" width="1" height="9" fill="#FF0000"/>
<rect x="889" y="77" width="5" height="7" fill="#FF0000"/>
<rect x="890" y="78" width="3" height="5" fill="#FF4500"/>
<rect x="899" y="43" width="1" height="40" fill="#FF0000"/>
<rect x="897" y="57" width="5" height="20" fill="#FF0000"/>
<rect x="898" y="58" width="3" height="18" fill="#FF4500"/>
<rect x="907" y="53" width="1" height="17" fill="#32CD32"/>
<rect x="905" y="58" width="5" height="7" fill="#32CD32"/>
<rect x="915" y="64" width="1" height="48" fill="#32CD32"/>
<rect x="913" y="65" width="5" height="43" fill="#32CD32"/>
</g>
<rect x="2" y="24" width="1164" height="1" fill="#000"/>
<rect x="2" y="403" width="1164" height="1" fill="#000"/>
<rect x="2" y="24" width="1" height="380" fill="#000"/>
<rect x="1165" y="24" width="1" height="380" fill="#000"/>
<rect x="2" y="405" width="1164" height="1" fill="#000"/>
<rect x="2" y="474" width="1164" height="1" fill="#000"/>
<rect x="2" y="405" width="1" height="70" fill="#000"/>
<rect x="1165" y="405" width="1" height="70" fill="#000"/>
<rect x="2" y="476" width="1164" height="1" fill="#000"/>
<rect x="2" y="548" width="1164" height="1" fill="#000"/>
<rect x="2" y="476" width="1" height="73" fill="#000"/>
<rect x="1165" y="476" width="1" height="73" fill="#000"/>
<rect x="2" y="81" width="6" height="6" fill="#FF0000"/>
<rect x="4" y="83" width="2" height="2" fill="#fff"/>
<rect x="2" y="150" width="6" height="6" fill="#00FF00"/>
<rect x="4" y="152" width="2" height="2" fill="#fff"/>
<rect x="2" y="218" width="6" height="6" fill="#0000FF"/>
<rect x="4" y="220" width="2" height="2" fill="#fff"/>
<rect x="2" y="281" width="6" height="6" fill="#0000FF"/>
<rect x="4" y="283" width="2" height="2" fill="#fff"/>
<rect x="1159" y="81" width="6" height="6" fill="#FF0000"/>
<rect x="1161" y="83" width="2" height="2" fill="#fff"/>
<rect x="1159" y="150" width="6" height="6" fill="#00FF00"/>
<rect x="1161" y="152" width="2" height="2" fill="#fff"/>
<rect x="1159" y="218" width="6" height="6" fill="#0000FF"/>
<rect x="1161" y="220" width="2" height="2" fill="#fff"/>
<rect x="1159" y="281" width="6" height="6" fill="#0000FF"/>
<rect x="1161" y="283" width="2" height="2" fill="#fff"/>
<path d="M6 31 L13 31 L9.5 35 Z" fill="#000"/>
<text x="18" y="36" font-size="9.6" fill="#000" text-anchor="start" textLength="69.0" lengthAdjust="spacingAndGlyphs" stroke="#000" stroke-width="0.2">USDCAD-,Daily</text>
<text x="93" y="36" font-size="9.6" fill="#000" text-anchor="start" textLength="141.5" lengthAdjust="spacingAndGlyphs" stroke="#000" stroke-width="0.2">1.29215 1.29230 1.28297 1.28389</text>
<rect x="1166" y="37" width="2" height="1" fill="#000"/>
<text x="1171" y="41" font-size="10" fill="#000" text-anchor="start" textLength="32.5" lengthAdjust="spacingAndGlyphs" stroke="#000" stroke-width="0.2">1.29750</text>
<rect x="1166" y="70" width="2" height="1" fill="#000"/>
<text x="1171" y="74" font-size="10" fill="#000" text-anchor="start" textLength="32.5" lengthAdjust="spacingAndGlyphs" stroke="#000" stroke-width="0.2">1.29105</text>
<rect x="1166" y="103" width="2" height="1" fill="#000"/>
<text x="1171" y="107" font-size="10" fill="#000" text-anchor="start" textLength="32.5" lengthAdjust="spacingAndGlyphs" stroke="#000" stroke-width="0.2">1.28475</text>
<rect x="1166" y="136" width="2" height="1" fill="#000"/>
<text x="1171" y="140" font-size="10" fill="#000" text-anchor="start" textLength="32.5" lengthAdjust="spacingAndGlyphs" stroke="#000" stroke-width="0.2">1.27830</text>
<rect x="1166" y="169" width="2" height="1" fill="#000"/>
<text x="1171" y="173" font-size="10" fill="#000" text-anchor="start" textLength="32.5" lengthAdjust="spacingAndGlyphs" stroke="#000" stroke-width="0.2">1.27200</text>
<rect x="1166" y="202" width="2" height="1" fill="#000"/>
<text x="1171" y="206" font-size="10" fill="#000" text-anchor="start" textLength="32.5" lengthAdjust="spacingAndGlyphs" stroke="#000" stroke-width="0.2">1.26570</text>
<rect x="1166" y="235" width="2" height="1" fill="#000"/>
<text x="1171" y="239" font-size="10" fill="#000" text-anchor="start" textLength="32.5" lengthAdjust="spacingAndGlyphs" stroke="#000" stroke-width="0.2">1.25925</text>
<rect x="1166" y="268" width="2" height="1" fill="#000"/>
<text x="1171" y="272" font-size="10" fill="#000" text-anchor="start" textLength="32.5" lengthAdjust="spacingAndGlyphs" stroke="#000" stroke-width="0.2">1.25295</text>
<rect x="1166" y="301" width="2" height="1" fill="#000"/>
<text x="1171" y="305" font-size="10" fill="#000" text-anchor="start" textLength="32.5" lengthAdjust="spacingAndGlyphs" stroke="#000" stroke-width="0.2">1.24650</text>
<rect x="1166" y="334" width="2" height="1" fill="#000"/>
<text x="1171" y="338" font-size="10" fill="#000" text-anchor="start" textLength="32.5" lengthAdjust="spacingAndGlyphs" stroke="#000" stroke-width="0.2">1.24020</text>
<rect x="1166" y="367" width="2" height="1" fill="#000"/>
<text x="1171" y="371" font-size="10" fill="#000" text-anchor="start" textLength="32.5" lengthAdjust="spacingAndGlyphs" stroke="#000" stroke-width="0.2">1.23375</text>
<rect x="1166" y="400" width="2" height="1" fill="#000"/>
<text x="1171" y="404" font-size="10" fill="#000" text-anchor="start" textLength="32.5" lengthAdjust="spacingAndGlyphs" stroke="#000" stroke-width="0.2">1.22745</text>
<rect x="1167" y="79" width="39" height="11" fill="#FF0000"/>
<text x="1171" y="88" font-size="10" fill="#fff" text-anchor="start" textLength="32.5" lengthAdjust="spacingAndGlyphs" stroke="#fff" stroke-width="0.2">1.28851</text>
<rect x="1167" y="147" width="39" height="11" fill="#00FF00"/>
<text x="1171" y="156" font-size="10" fill="#fff" text-anchor="start" textLength="32.5" lengthAdjust="spacingAndGlyphs" stroke="#fff" stroke-width="0.2">1.27515</text>
<rect x="1167" y="216" width="39" height="11" fill="#0000FF"/>
<text x="1171" y="225" font-size="10" fill="#fff" text-anchor="start" textLength="32.5" lengthAdjust="spacingAndGlyphs" stroke="#fff" stroke-width="0.2">1.26199</text>
<rect x="1167" y="278" width="39" height="11" fill="#0000FF"/>
<text x="1171" y="287" font-size="10" fill="#fff" text-anchor="start" textLength="32.5" lengthAdjust="spacingAndGlyphs" stroke="#fff" stroke-width="0.2">1.24995</text>
<rect x="1167" y="339" width="39" height="11" fill="#0000FF"/>
<text x="1171" y="348" font-size="10" fill="#fff" text-anchor="start" textLength="32.5" lengthAdjust="spacingAndGlyphs" stroke="#fff" stroke-width="0.2">1.23810</text>
<rect x="1167" y="102" width="39" height="11" fill="#000000"/>
<text x="1171" y="111" font-size="10" fill="#fff" text-anchor="start" textLength="32.5" lengthAdjust="spacingAndGlyphs" stroke="#fff" stroke-width="0.2">1.28389</text>
<g clip-path="url(#cd)">
<rect x="2" y="435" width="3" height="6" fill="#C0C0C0"/>
<rect x="10" y="436" width="3" height="5" fill="#C0C0C0"/>
<rect x="18" y="436" width="3" height="5" fill="#C0C0C0"/>
<rect x="26" y="437" width="3" height="4" fill="#C0C0C0"/>
<rect x="34" y="435" width="3" height="6" fill="#C0C0C0"/>
<rect x="42" y="434" width="3" height="7" fill="#C0C0C0"/>
<rect x="50" y="431" width="3" height="10" fill="#C0C0C0"/>
<rect x="58" y="424" width="3" height="17" fill="#C0C0C0"/>
<rect x="66" y="418" width="3" height="23" fill="#C0C0C0"/>
<rect x="74" y="415" width="3" height="26" fill="#C0C0C0"/>
<rect x="82" y="417" width="3" height="24" fill="#C0C0C0"/>
<rect x="90" y="421" width="3" height="20" fill="#C0C0C0"/>
<rect x="98" y="424" width="3" height="17" fill="#C0C0C0"/>
<rect x="106" y="424" width="3" height="17" fill="#C0C0C0"/>
<rect x="114" y="427" width="3" height="14" fill="#C0C0C0"/>
<rect x="122" y="429" width="3" height="12" fill="#C0C0C0"/>
<rect x="130" y="431" width="3" height="10" fill="#C0C0C0"/>
<rect x="138" y="432" width="3" height="9" fill="#C0C0C0"/>
<rect x="146" y="433" width="3" height="8" fill="#C0C0C0"/>
<rect x="154" y="436" width="3" height="5" fill="#C0C0C0"/>
<rect x="162" y="439" width="3" height="2" fill="#C0C0C0"/>
<rect x="170" y="441" width="3" height="2" fill="#C0C0C0"/>
<rect x="178" y="441" width="3" height="3" fill="#C0C0C0"/>
<rect x="186" y="441" width="3" height="1" fill="#C0C0C0"/>
<rect x="194" y="438" width="3" height="3" fill="#C0C0C0"/>
<rect x="202" y="437" width="3" height="4" fill="#C0C0C0"/>
<rect x="210" y="436" width="3" height="5" fill="#C0C0C0"/>
<rect x="218" y="435" width="3" height="6" fill="#C0C0C0"/>
<rect x="226" y="435" width="3" height="6" fill="#C0C0C0"/>
<rect x="234" y="433" width="3" height="8" fill="#C0C0C0"/>
<rect x="242" y="435" width="3" height="6" fill="#C0C0C0"/>
<rect x="250" y="434" width="3" height="7" fill="#C0C0C0"/>
<rect x="258" y="431" width="3" height="10" fill="#C0C0C0"/>
<rect x="266" y="429" width="3" height="12" fill="#C0C0C0"/>
<rect x="274" y="426" width="3" height="15" fill="#C0C0C0"/>
<rect x="282" y="424" width="3" height="17" fill="#C0C0C0"/>
<rect x="290" y="423" width="3" height="18" fill="#C0C0C0"/>
<rect x="298" y="426" width="3" height="15" fill="#C0C0C0"/>
<rect x="306" y="430" width="3" height="11" fill="#C0C0C0"/>
<rect x="314" y="431" width="3" height="10" fill="#C0C0C0"/>
<rect x="322" y="434" width="3" height="7" fill="#C0C0C0"/>
<rect x="330" y="435" width="3" height="6" fill="#C0C0C0"/>
<rect x="338" y="434" width="3" height="7" fill="#C0C0C0"/>
<rect x="346" y="434" width="3" height="7" fill="#C0C0C0"/>
<rect x="354" y="436" width="3" height="5" fill="#C0C0C0"/>
<rect x="362" y="439" width="3" height="2" fill="#C0C0C0"/>
<rect x="370" y="441" width="3" height="1" fill="#C0C0C0"/>
<rect x="378" y="441" width="3" height="4" fill="#C0C0C0"/>
<rect x="386" y="441" width="3" height="5" fill="#C0C0C0"/>
<rect x="394" y="441" width="3" height="8" fill="#C0C0C0"/>
<rect x="402" y="441" width="3" height="12" fill="#C0C0C0"/>
<rect x="410" y="441" width="3" height="15" fill="#C0C0C0"/>
<rect x="418" y="441" width="3" height="17" fill="#C0C0C0"/>
<rect x="426" y="441" width="3" height="18" fill="#C0C0C0"/>
<rect x="434" y="441" width="3" height="20" fill="#C0C0C0"/>
<rect x="442" y="441" width="3" height="23" fill="#C0C0C0"/>
<rect x="450" y="441" width="3" height="26" fill="#C0C0C0"/>
<rect x="458" y="441" width="3" height="27" fill="#C0C0C0"/>
<rect x="466" y="441" width="3" height="28" fill="#C0C0C0"/>
<rect x="474" y="441" width="3" height="29" fill="#C0C0C0"/>
<rect x="482" y="441" width="3" height="30" fill="#C0C0C0"/>
<rect x="490" y="441" width="3" height="30" fill="#C0C0C0"/>
<rect x="498" y="441" width="3" height="29" fill="#C0C0C0"/>
<rect x="506" y="441" width="3" height="27" fill="#C0C0C0"/>
<rect x="514" y="441" width="3" height="27" fill="#C0C0C0"/>
<rect x="522" y="441" width="3" height="25" fill="#C0C0C0"/>
<rect x="530" y="441" width="3" height="24" fill="#C0C0C0"/>
<rect x="538" y="441" width="3" height="23" fill="#C0C0C0"/>
<rect x="546" y="441" width="3" height="22" fill="#C0C0C0"/>
<rect x="554" y="441" width="3" height="20" fill="#C0C0C0"/>
<rect x="562" y="441" width="3" height="19" fill="#C0C0C0"/>
<rect x="570" y="441" width="3" height="17" fill="#C0C0C0"/>
<rect x="578" y="441" width="3" height="16" fill="#C0C0C0"/>
<rect x="586" y="441" width="3" height="13" fill="#C0C0C0"/>
<rect x="594" y="441" width="3" height="11" fill="#C0C0C0"/>
<rect x="602" y="441" width="3" height="9" fill="#C0C0C0"/>
<rect x="610" y="441" width="3" height="7" fill="#C0C0C0"/>
<rect x="618" y="441" width="3" height="5" fill="#C0C0C0"/>
<rect x="626" y="441" width="3" height="3" fill="#C0C0C0"/>
<rect x="634" y="439" width="3" height="2" fill="#C0C0C0"/>
<rect x="642" y="436" width="3" height="5" fill="#C0C0C0"/>
<rect x="650" y="434" width="3" height="7" fill="#C0C0C0"/>
<rect x="658" y="434" width="3" height="7" fill="#C0C0C0"/>
<rect x="666" y="432" width="3" height="9" fill="#C0C0C0"/>
<rect x="674" y="429" width="3" height="12" fill="#C0C0C0"/>
<rect x="682" y="428" width="3" height="13" fill="#C0C0C0"/>
<rect x="690" y="425" width="3" height="16" fill="#C0C0C0"/>
<rect x="698" y="423" width="3" height="18" fill="#C0C0C0"/>
<rect x="706" y="420" width="3" height="21" fill="#C0C0C0"/>
<rect x="714" y="419" width="3" height="22" fill="#C0C0C0"/>
<rect x="722" y="419" width="3" height="22" fill="#C0C0C0"/>
<rect x="730" y="419" width="3" height="22" fill="#C0C0C0"/>
<rect x="738" y="416" width="3" height="25" fill="#C0C0C0"/>
<rect x="746" y="415" width="3" height="26" fill="#C0C0C0"/>
<rect x="754" y="415" width="3" height="26" fill="#C0C0C0"/>
<rect x="762" y="414" width="3" height="27" fill="#C0C0C0"/>
<rect x="770" y="412" width="3" height="29" fill="#C0C0C0"/>
<rect x="778" y="411" width="3" height="30" fill="#C0C0C0"/>
<rect x="786" y="410" width="3" height="31" fill="#C0C0C0"/>
<rect x="794" y="410" width="3" height="31" fill="#C0C0C0"/>
<rect x="802" y="412" width="3" height="29" fill="#C0C0C0"/>
<rect x="810" y="417" width="3" height="24" fill="#C0C0C0"/>
<rect x="818" y="421" width="3" height="20" fill="#C0C0C0"/>
<rect x="826" y="423" width="3" height="18" fill="#C0C0C0"/>
<rect x="834" y="424" width="3" height="17" fill="#C0C0C0"/>
<rect x="842" y="425" width="3" height="16" fill="#C0C0C0"/>
<rect x="850" y="424" width="3" height="17" fill="#C0C0C0"/>
<rect x="858" y="420" width="3" height="21" fill="#C0C0C0"/>
<rect x="866" y="422" width="3" height="19" fill="#C0C0C0"/>
<rect x="874" y="422" width="3" height="19" fill="#C0C0C0"/>
<rect x="882" y="420" width="3" height="21" fill="#C0C0C0"/>
<rect x="890" y="418" width="3" height="23" fill="#C0C0C0"/>
<rect x="898" y="416" width="3" height="25" fill="#C0C0C0"/>
<rect x="906" y="415" width="3" height="26" fill="#C0C0C0"/>
<rect x="914" y="417" width="3" height="24" fill="#C0C0C0"/>
<path d="M791 413h34v1h-34zM783 414h8v1h-8zM825 414h7v1h-7zM777 415h6v1h-6zM832 415h6v1h-6zM772 416h5v1h-5zM838 416h5v1h-5zM767 417h5v1h-5zM843 417h6v1h-6zM763 418h4v1h-4zM849 418h4v1h-4zM758 419h5v1h-5zM853 419h4v1h-4zM752 420h6v1h-6zM857 420h4v1h-4zM905 420h11v1h-11zM746 421h6v1h-6zM861 421h4v1h-4zM899 421h6v1h-6zM119 422h8v1h-8zM740 422h6v1h-6zM865 422h6v1h-6zM894 422h5v1h-5zM111 423h8v1h-8zM127 423h8v1h-8zM734 423h6v1h-6zM871 423h23v1h-23zM105 424h6v1h-6zM135 424h8v1h-8zM729 424h5v1h-5zM99 425h6v1h-6zM143 425h8v1h-8zM725 425h4v1h-4zM94 426h5v1h-5zM151 426h6v1h-6zM721 426h4v1h-4zM89 427h5v1h-5zM157 427h3v1h-3zM717 427h4v1h-4zM83 428h6v1h-6zM160 428h3v1h-3zM313 428h12v1h-12zM713 428h4v1h-4zM78 429h5v1h-5zM163 429h4v1h-4zM309 429h4v1h-4zM325 429h4v1h-4zM709 429h4v1h-4zM73 430h5v1h-5zM167 430h3v1h-3zM288 430h21v1h-21zM329 430h20v1h-20zM705 430h4v1h-4zM69 431h4v1h-4zM170 431h3v1h-3zM282 431h6v1h-6zM349 431h4v1h-4zM699 431h6v1h-6zM65 432h4v1h-4zM173 432h4v1h-4zM276 432h6v1h-6zM353 432h4v1h-4zM694 432h5v1h-5zM2 433h9v1h-9zM61 433h4v1h-4zM177 433h4v1h-4zM270 433h6v1h-6zM357 433h4v1h-4zM690 433h4v1h-4zM11 434h16v1h-16zM47 434h14v1h-14zM181 434h4v1h-4zM265 434h5v1h-5zM361 434h5v1h-5zM687 434h3v1h-3zM27 435h20v1h-20zM185 435h6v1h-6zM259 435h6v1h-6zM366 435h5v1h-5zM683 435h4v1h-4zM191 436h8v1h-8zM254 436h5v1h-5zM371 436h6v1h-6zM680 436h3v1h-3zM199 437h18v1h-18zM241 437h13v1h-13zM377 437h5v1h-5zM677 437h3v1h-3zM217 438h24v1h-24zM382 438h5v1h-5zM673 438h4v1h-4zM387 439h6v1h-6zM669 439h4v1h-4zM393 440h4v1h-4zM665 440h4v1h-4zM397 441h4v1h-4zM661 441h4v1h-4zM401 442h4v1h-4zM658 442h3v1h-3zM405 443h4v1h-4zM655 443h3v1h-3zM409 444h4v1h-4zM653 444h2v1h-2zM413 445h3v1h-3zM650 445h3v1h-3zM416 446h3v1h-3zM647 446h3v1h-3zM419 447h4v1h-4zM645 447h2v1h-2zM423 448h3v1h-3zM641 448h4v1h-4zM426 449h3v1h-3zM635 449h6v1h-6zM429 450h3v1h-3zM630 450h5v1h-5zM432 451h3v1h-3zM625 451h5v1h-5zM435 452h4v1h-4zM621 452h4v1h-4zM439 453h3v1h-3zM617 453h4v1h-4zM442 454h3v1h-3zM613 454h4v1h-4zM445 455h3v1h-3zM609 455h4v1h-4zM448 456h3v1h-3zM603 456h6v1h-6zM451 457h4v1h-4zM598 457h5v1h-5zM455 458h3v1h-3zM593 458h5v1h-5zM458 459h3v1h-3zM587 459h6v1h-6zM461 460h3v1h-3zM582 460h5v1h-5zM464 461h3v1h-3zM577 461h5v1h-5zM467 462h4v1h-4zM571 462h6v1h-6zM471 463h3v1h-3zM566 463h5v1h-5zM474 464h12v1h-12zM561 464h5v1h-5zM486 465h5v1h-5zM555 465h6v1h-6zM491 466h6v1h-6zM550 466h5v1h-5zM497 467h6v1h-6zM539 467h11v1h-11zM503 468h36v1h-36z" fill="#FF0000"/>
</g>
<text x="7" y="418" font-size="10" fill="#000" text-anchor="start" textLength="147.5" lengthAdjust="spacingAndGlyphs" stroke="#000" stroke-width="0.2">MACD(12,26,9) 0.006534 0.005868</text>
<text x="1169" y="416" font-size="10" fill="#000" text-anchor="start" textLength="38.4" lengthAdjust="spacingAndGlyphs" stroke="#000" stroke-width="0.2">0.009345</text>
<text x="1169" y="445" font-size="10" fill="#000" text-anchor="start" textLength="17.9" lengthAdjust="spacingAndGlyphs" stroke="#000" stroke-width="0.2">0.00</text>
<text x="1169" y="472" font-size="10" fill="#000" text-anchor="start" textLength="41.4" lengthAdjust="spacingAndGlyphs" stroke="#000" stroke-width="0.2">-0.008902</text>
<rect x="1166" y="407" width="2" height="1" fill="#000"/>
<rect x="1166" y="441" width="2" height="1" fill="#000"/>
<rect x="1166" y="473" width="2" height="1" fill="#000"/>
<g clip-path="url(#cr)">
<line x1="4" y1="498.5" x2="1165" y2="498.5" stroke="#C0C0C0" stroke-width="1" stroke-dasharray="3,3"/>
<line x1="4" y1="526.5" x2="1165" y2="526.5" stroke="#C0C0C0" stroke-width="1" stroke-dasharray="3,3"/>
<path d="M59 496h12v1h-12zM57 497h2v1h-2zM71 497h5v1h-5zM739 497h1v1h-1zM775 497h14v1h-14zM56 498h1v1h-1zM76 498h1v1h-1zM705 498h4v1h-4zM737 498h2v1h-2zM740 498h2v1h-2zM767 498h8v1h-8zM789 498h4v1h-4zM55 499h1v1h-1zM76 499h1v1h-1zM690 499h5v1h-5zM701 499h4v1h-4zM709 499h2v1h-2zM735 499h2v1h-2zM742 499h1v1h-1zM761 499h6v1h-6zM793 499h3v1h-3zM53 500h2v1h-2zM77 500h1v1h-1zM635 500h1v1h-1zM687 500h3v1h-3zM695 500h6v1h-6zM711 500h3v1h-3zM734 500h1v1h-1zM743 500h2v1h-2zM757 500h4v1h-4zM796 500h1v1h-1zM52 501h1v1h-1zM77 501h1v1h-1zM634 501h1v1h-1zM636 501h2v1h-2zM685 501h2v1h-2zM714 501h5v1h-5zM732 501h2v1h-2zM745 501h2v1h-2zM751 501h6v1h-6zM797 501h2v1h-2zM895 501h8v1h-8zM49 502h3v1h-3zM78 502h1v1h-1zM281 502h4v1h-4zM633 502h1v1h-1zM638 502h2v1h-2zM673 502h12v1h-12zM719 502h13v1h-13zM747 502h4v1h-4zM799 502h1v1h-1zM858 502h3v1h-3zM889 502h6v1h-6zM903 502h5v1h-5zM45 503h4v1h-4zM79 503h1v1h-1zM275 503h6v1h-6zM285 503h2v1h-2zM632 503h1v1h-1zM640 503h2v1h-2zM669 503h4v1h-4zM800 503h1v1h-1zM855 503h3v1h-3zM861 503h2v1h-2zM885 503h4v1h-4zM908 503h1v1h-1zM42 504h3v1h-3zM79 504h1v1h-1zM270 504h5v1h-5zM287 504h3v1h-3zM631 504h1v1h-1zM642 504h5v1h-5zM666 504h3v1h-3zM801 504h2v1h-2zM853 504h2v1h-2zM863 504h3v1h-3zM882 504h3v1h-3zM909 504h2v1h-2zM40 505h2v1h-2zM80 505h1v1h-1zM265 505h5v1h-5zM290 505h2v1h-2zM630 505h1v1h-1zM647 505h6v1h-6zM664 505h2v1h-2zM803 505h1v1h-1zM850 505h3v1h-3zM866 505h3v1h-3zM880 505h2v1h-2zM911 505h1v1h-1zM38 506h2v1h-2zM81 506h1v1h-1zM261 506h4v1h-4zM292 506h1v1h-1zM629 506h1v1h-1zM653 506h2v1h-2zM662 506h2v1h-2zM804 506h1v1h-1zM848 506h2v1h-2zM869 506h2v1h-2zM878 506h2v1h-2zM912 506h1v1h-1zM36 507h2v1h-2zM81 507h1v1h-1zM193 507h4v1h-4zM258 507h3v1h-3zM293 507h1v1h-1zM628 507h1v1h-1zM655 507h3v1h-3zM660 507h2v1h-2zM805 507h1v1h-1zM846 507h2v1h-2zM871 507h3v1h-3zM876 507h2v1h-2zM913 507h2v1h-2zM34 508h2v1h-2zM82 508h1v1h-1zM107 508h1v1h-1zM189 508h4v1h-4zM197 508h4v1h-4zM211 508h10v1h-10zM233 508h3v1h-3zM255 508h3v1h-3zM294 508h1v1h-1zM338 508h3v1h-3zM627 508h1v1h-1zM658 508h2v1h-2zM806 508h1v1h-1zM833 508h6v1h-6zM844 508h2v1h-2zM874 508h2v1h-2zM915 508h1v1h-1zM32 509h2v1h-2zM82 509h1v1h-1zM105 509h2v1h-2zM108 509h2v1h-2zM187 509h2v1h-2zM201 509h10v1h-10zM221 509h4v1h-4zM229 509h4v1h-4zM236 509h2v1h-2zM253 509h2v1h-2zM295 509h1v1h-1zM336 509h2v1h-2zM341 509h2v1h-2zM625 509h2v1h-2zM807 509h1v1h-1zM829 509h4v1h-4zM839 509h5v1h-5zM30 510h2v1h-2zM83 510h2v1h-2zM103 510h2v1h-2zM110 510h2v1h-2zM186 510h1v1h-1zM225 510h4v1h-4zM238 510h1v1h-1zM250 510h3v1h-3zM296 510h1v1h-1zM334 510h2v1h-2zM343 510h3v1h-3zM593 510h6v1h-6zM623 510h2v1h-2zM807 510h1v1h-1zM826 510h3v1h-3zM28 511h2v1h-2zM85 511h2v1h-2zM102 511h1v1h-1zM112 511h2v1h-2zM185 511h1v1h-1zM239 511h2v1h-2zM247 511h3v1h-3zM297 511h1v1h-1zM332 511h2v1h-2zM346 511h2v1h-2zM589 511h4v1h-4zM599 511h8v1h-8zM622 511h1v1h-1zM808 511h1v1h-1zM824 511h2v1h-2zM7 512h21v1h-21zM87 512h3v1h-3zM100 512h2v1h-2zM114 512h34v1h-34zM183 512h2v1h-2zM241 512h2v1h-2zM245 512h2v1h-2zM298 512h1v1h-1zM330 512h2v1h-2zM348 512h2v1h-2zM587 512h2v1h-2zM607 512h8v1h-8zM620 512h2v1h-2zM809 512h1v1h-1zM822 512h2v1h-2zM2 513h5v1h-5zM90 513h10v1h-10zM148 513h2v1h-2zM182 513h1v1h-1zM243 513h2v1h-2zM299 513h12v1h-12zM327 513h3v1h-3zM350 513h2v1h-2zM586 513h1v1h-1zM615 513h5v1h-5zM810 513h1v1h-1zM820 513h2v1h-2zM150 514h2v1h-2zM181 514h1v1h-1zM311 514h8v1h-8zM325 514h2v1h-2zM352 514h2v1h-2zM585 514h1v1h-1zM811 514h9v1h-9zM152 515h2v1h-2zM180 515h1v1h-1zM319 515h6v1h-6zM354 515h11v1h-11zM583 515h2v1h-2zM154 516h3v1h-3zM177 516h3v1h-3zM365 516h4v1h-4zM570 516h3v1h-3zM582 516h1v1h-1zM157 517h4v1h-4zM173 517h4v1h-4zM369 517h6v1h-6zM383 517h6v1h-6zM568 517h2v1h-2zM573 517h2v1h-2zM581 517h1v1h-1zM161 518h12v1h-12zM375 518h8v1h-8zM389 518h2v1h-2zM566 518h2v1h-2zM575 518h3v1h-3zM580 518h1v1h-1zM391 519h3v1h-3zM564 519h2v1h-2zM578 519h2v1h-2zM394 520h2v1h-2zM546 520h18v1h-18zM396 521h2v1h-2zM519 521h8v1h-8zM544 521h2v1h-2zM398 522h2v1h-2zM409 522h20v1h-20zM511 522h8v1h-8zM527 522h6v1h-6zM542 522h2v1h-2zM400 523h2v1h-2zM405 523h4v1h-4zM429 523h2v1h-2zM503 523h8v1h-8zM533 523h4v1h-4zM540 523h2v1h-2zM402 524h3v1h-3zM431 524h3v1h-3zM491 524h12v1h-12zM537 524h3v1h-3zM434 525h3v1h-3zM489 525h2v1h-2zM437 526h4v1h-4zM447 526h8v1h-8zM488 526h1v1h-1zM441 527h6v1h-6zM455 527h16v1h-16zM487 527h1v1h-1zM471 528h6v1h-6zM485 528h2v1h-2zM477 529h4v1h-4zM484 529h1v1h-1zM481 530h3v1h-3z" fill="#1E90FF"/>
</g>
<text x="7" y="489" font-size="10" fill="#000" text-anchor="start" textLength="68.5" lengthAdjust="spacingAndGlyphs" stroke="#000" stroke-width="0.2">RSI(14) 56.1889</text>
<text x="1169" y="487" font-size="10" fill="#000" text-anchor="start" textLength="14.7" lengthAdjust="spacingAndGlyphs" stroke="#000" stroke-width="0.2">100</text>
<text x="1169" y="502" font-size="10" fill="#000" text-anchor="start" textLength="9.8" lengthAdjust="spacingAndGlyphs" stroke="#000" stroke-width="0.2">70</text>
<text x="1169" y="530" font-size="10" fill="#000" text-anchor="start" textLength="9.8" lengthAdjust="spacingAndGlyphs" stroke="#000" stroke-width="0.2">30</text>
<text x="1169" y="545" font-size="10" fill="#000" text-anchor="start" textLength="4.9" lengthAdjust="spacingAndGlyphs" stroke="#000" stroke-width="0.2">0</text>
<rect x="1166" y="478" width="2" height="1" fill="#000"/>
<rect x="1166" y="547" width="2" height="1" fill="#000"/>
<rect x="1166" y="498" width="2" height="1" fill="#C0C0C0"/>
<rect x="1166" y="526" width="2" height="1" fill="#C0C0C0"/>
<rect x="3" y="548" width="1" height="4" fill="#000"/>
<text x="3" y="561" font-size="10" fill="#000" text-anchor="start" textLength="51.7" lengthAdjust="spacingAndGlyphs" stroke="#000" stroke-width="0.25">11 Aug 2021</text>
<rect x="67" y="548" width="1" height="4" fill="#000"/>
<text x="67" y="561" font-size="10" fill="#000" text-anchor="start" textLength="52.4" lengthAdjust="spacingAndGlyphs" stroke="#000" stroke-width="0.25">20 Aug 2021</text>
<rect x="131" y="548" width="1" height="4" fill="#000"/>
<text x="131" y="561" font-size="10" fill="#000" text-anchor="start" textLength="52.4" lengthAdjust="spacingAndGlyphs" stroke="#000" stroke-width="0.25">30 Aug 2021</text>
<rect x="195" y="548" width="1" height="4" fill="#000"/>
<text x="195" y="561" font-size="10" fill="#000" text-anchor="start" textLength="47.7" lengthAdjust="spacingAndGlyphs" stroke="#000" stroke-width="0.25">8 Sep 2021</text>
<rect x="259" y="548" width="1" height="4" fill="#000"/>
<text x="259" y="561" font-size="10" fill="#000" text-anchor="start" textLength="52.9" lengthAdjust="spacingAndGlyphs" stroke="#000" stroke-width="0.25">17 Sep 2021</text>
<rect x="323" y="548" width="1" height="4" fill="#000"/>
<text x="323" y="561" font-size="10" fill="#000" text-anchor="start" textLength="52.9" lengthAdjust="spacingAndGlyphs" stroke="#000" stroke-width="0.25">27 Sep 2021</text>
<rect x="387" y="548" width="1" height="4" fill="#000"/>
<text x="387" y="561" font-size="10" fill="#000" text-anchor="start" textLength="45.6" lengthAdjust="spacingAndGlyphs" stroke="#000" stroke-width="0.25">6 Oct 2021</text>
<rect x="451" y="548" width="1" height="4" fill="#000"/>
<text x="451" y="561" font-size="10" fill="#000" text-anchor="start" textLength="50.8" lengthAdjust="spacingAndGlyphs" stroke="#000" stroke-width="0.25">15 Oct 2021</text>
<rect x="515" y="548" width="1" height="4" fill="#000"/>
<text x="515" y="561" font-size="10" fill="#000" text-anchor="start" textLength="50.8" lengthAdjust="spacingAndGlyphs" stroke="#000" stroke-width="0.25">25 Oct 2021</text>
<rect x="579" y="548" width="1" height="4" fill="#000"/>
<text x="579" y="561" font-size="10" fill="#000" text-anchor="start" textLength="47.7" lengthAdjust="spacingAndGlyphs" stroke="#000" stroke-width="0.25">3 Nov 2021</text>
<rect x="643" y="548" width="1" height="4" fill="#000"/>
<text x="643" y="561" font-size="10" fill="#000" text-anchor="start" textLength="52.9" lengthAdjust="spacingAndGlyphs" stroke="#000" stroke-width="0.25">12 Nov 2021</text>
<rect x="707" y="548" width="1" height="4" fill="#000"/>
<text x="707" y="561" font-size="10" fill="#000" text-anchor="start" textLength="52.9" lengthAdjust="spacingAndGlyphs" stroke="#000" stroke-width="0.25">22 Nov 2021</text>
<rect x="771" y="548" width="1" height="4" fill="#000"/>
<text x="771" y="561" font-size="10" fill="#000" text-anchor="start" textLength="47.7" lengthAdjust="spacingAndGlyphs" stroke="#000" stroke-width="0.25">1 Dec 2021</text>
<rect x="835" y="548" width="1" height="4" fill="#000"/>
<text x="835" y="561" font-size="10" fill="#000" text-anchor="start" textLength="52.9" lengthAdjust="spacingAndGlyphs" stroke="#000" stroke-width="0.25">10 Dec 2021</text>
<rect x="899" y="548" width="1" height="4" fill="#000"/>
<text x="899" y="561" font-size="10" fill="#000" text-anchor="start" textLength="52.9" lengthAdjust="spacingAndGlyphs" stroke="#000" stroke-width="0.25">20 Dec 2021</text>
<rect x="0" y="569" width="1206" height="1" fill="#E3E3E3"/>
<rect x="0" y="570" width="1206" height="1" fill="#FFFFFF"/>
<rect x="0" y="571" width="1206" height="1" fill="#000"/>
<rect x="0" y="572" width="1206" height="23" fill="#F0F0F0"/>
<rect x="0" y="591" width="1206" height="1" fill="#FAFAFA"/>
<rect x="0" y="595" width="1206" height="1" fill="#A0A0A0"/>
<text x="15" y="586" font-size="12" fill="#6D6D6D" text-anchor="start">USDX,Weekly</text>
<text x="115" y="586" font-size="12" fill="#6D6D6D" text-anchor="start">EURUSD-,Daily</text>
<text x="222" y="586" font-size="12" fill="#6D6D6D" text-anchor="start">AUDUSD-,Daily</text>
<text x="332" y="586" font-size="12" fill="#6D6D6D" text-anchor="start">USDCHF-,H4</text>
<text x="536" y="586" font-size="12" fill="#6D6D6D" text-anchor="start">USDCNH-,Daily</text>
<text x="647" y="586" font-size="12" fill="#6D6D6D" text-anchor="start">XAUUSD-,Daily</text>
<text x="754" y="586" font-size="12" fill="#6D6D6D" text-anchor="start">UKOil-,Weekly</text>
<text x="860" y="586" font-size="12" fill="#6D6D6D" text-anchor="start">DJ30-,Daily</text>
<text x="947" y="586" font-size="12" fill="#6D6D6D" text-anchor="start">UK100-,H1</text>
<rect x="104" y="574" width="1" height="15" fill="#555"/>
<rect x="212" y="574" width="1" height="15" fill="#555"/>
<rect x="320" y="574" width="1" height="15" fill="#555"/>
<rect x="636" y="574" width="1" height="15" fill="#555"/>
<rect x="744" y="574" width="1" height="15" fill="#555"/>
<rect x="848" y="574" width="1" height="15" fill="#555"/>
<rect x="936" y="574" width="1" height="15" fill="#555"/>
<rect x="1021" y="574" width="1" height="15" fill="#555"/>
<rect x="417" y="570" width="106" height="19" fill="#FFFFFF"/>
<rect x="416" y="571" width="1" height="19" fill="#000"/>
<rect x="523" y="571" width="1" height="19" fill="#000"/>
<rect x="416" y="589" width="108" height="1" fill="#000"/>
<text x="427" y="586" font-size="12" fill="#000" text-anchor="start">USDCAD-,Daily</text>
<path d="M1180.8 580.5 L1185 577 L1185 584 Z" fill="#8C8C8C"/>
<path d="M1204.2 580.5 L1200 577 L1200 584 Z" fill="#8C8C8C"/>
</svg>
</body></html>
